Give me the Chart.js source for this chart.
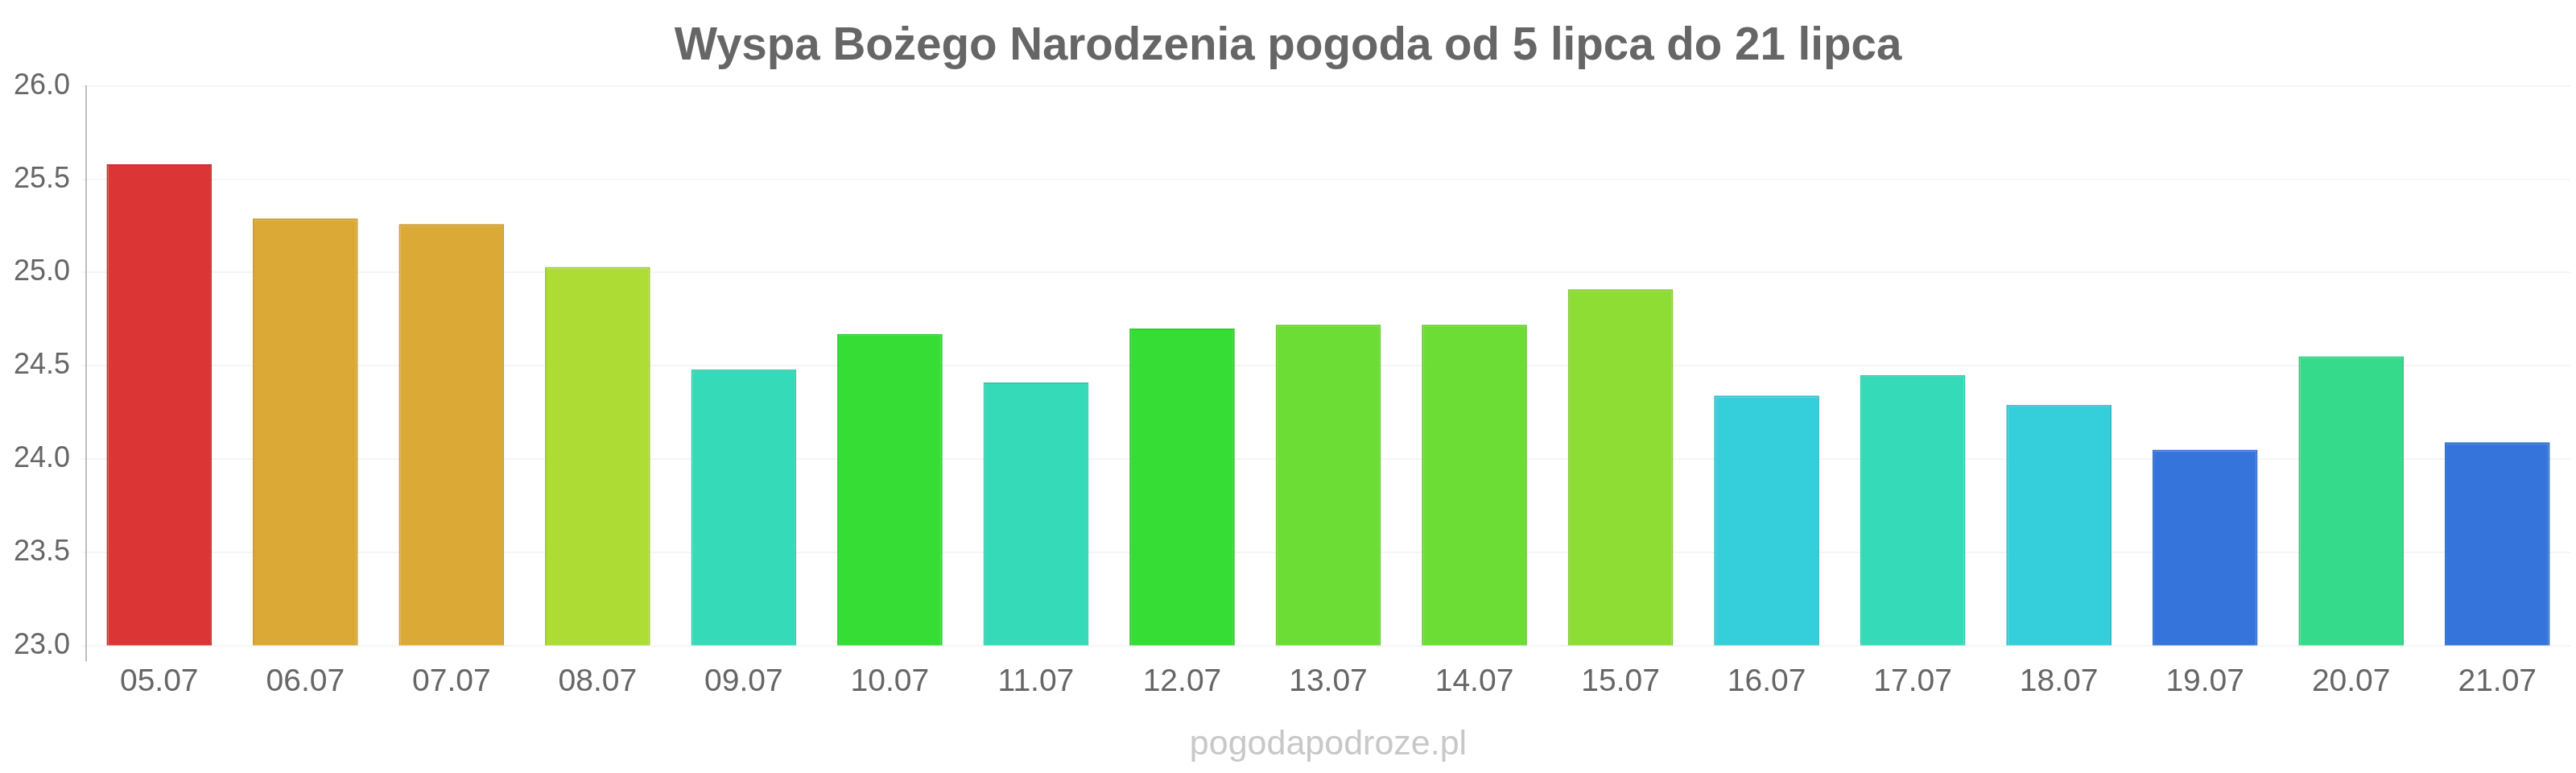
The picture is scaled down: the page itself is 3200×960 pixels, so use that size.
<!DOCTYPE html>
<html>
<head>
<meta charset="utf-8">
<script src="https://cdn.jsdelivr.net/npm/chart.js@4.4.1/dist/chart.umd.min.js"></script>
<style>
  html, body { margin: 0; padding: 0; background: #ffffff; }
  #wrap { width: 3200px; height: 960px; position: relative; }
</style>
</head>
<body>
<div id="wrap"><canvas id="chart"></canvas></div>
<script>
const titleText = 'Wyspa Bożego Narodzenia pogoda od 5 lipca do 21 lipca';
const watermarkText = 'pogodapodroze.pl';
const categories = ['05.07', '06.07', '07.07', '08.07', '09.07', '10.07', '11.07', '12.07', '13.07', '14.07', '15.07', '16.07', '17.07', '18.07', '19.07', '20.07', '21.07'];
const temperatures = [25.58, 25.29, 25.26, 25.03, 24.48, 24.67, 24.41, 24.70, 24.72, 24.72, 24.91, 24.34, 24.45, 24.29, 24.05, 24.55, 24.09];
const barColors = ['#db3535', '#dba935', '#dba935', '#addd35', '#35dbb8', '#35dd35', '#35dbb8', '#35dd35', '#6cdd35', '#6cdd35', '#8ddd35', '#35cfdb', '#35dbb8', '#35cfdb', '#3575db', '#35db8a', '#3575db'];
const yTickValues = [23.0, 23.5, 24.0, 24.5, 25.0, 25.5, 26.0];

function darker(hex, f) {
  const n = parseInt(hex.slice(1), 16);
  const r = Math.round(((n >> 16) & 255) * f);
  const g = Math.round(((n >> 8) & 255) * f);
  const b = Math.round((n & 255) * f);
  return 'rgb(' + r + ',' + g + ',' + b + ')';
}

const FONT = "'Liberation Sans', Arial, Helvetica, sans-serif";

new Chart(document.getElementById('chart'), {
  type: 'bar',
  data: {
    labels: categories,
    datasets: [{
      data: temperatures,
      backgroundColor: barColors,
      borderColor: barColors.map(c => darker(c, 0.92)),
      borderWidth: 2,
      barPercentage: 0.9,
      categoryPercentage: 0.8
    }]
  },
  options: {
    responsive: true,
    maintainAspectRatio: false,
    devicePixelRatio: 1,
    animation: false,
    layout: { padding: { left: 7, right: 7, top: 0, bottom: 0 } },
    plugins: {
      legend: { display: false },
      tooltip: { enabled: false },
      title: {
        display: true,
        text: titleText,
        color: '#666666',
        font: { family: FONT, size: 56.5, weight: 'bold', lineHeight: 1.2 },
        padding: { top: 25, bottom: 14 }
      },
      subtitle: {
        display: true,
        position: 'bottom',
        fullSize: false,
        text: watermarkText,
        color: '#c8c8c8',
        font: { family: FONT, size: 43, weight: 'normal', lineHeight: 1.2 },
        padding: { top: 27, bottom: 9 }
      }
    },
    scales: {
      x: {
        offset: true,
        border: { display: false },
        grid: {
          display: true,
          offset: true,
          drawOnChartArea: true,
          color: ctx => ctx.index === 0 ? '#bdbdbd' : 'rgba(0,0,0,0)',
          lineWidth: 2,
          tickLength: 20
        },
        ticks: {
          color: '#666666',
          padding: 2,
          font: { family: FONT, size: 39 },
          maxRotation: 0,
          autoSkip: false
        }
      },
      y: {
        min: 23,
        max: 26,
        afterFit: axis => { axis.width = 100; },
        border: { display: true, color: '#bdbdbd', width: 2 },
        grid: {
          color: 'rgba(0,0,0,0.04)',
          lineWidth: 2,
          tickLength: 5
        },
        afterBuildTicks: axis => { axis.ticks = yTickValues.map(v => ({ value: v })); },
        ticks: {
          color: '#666666',
          padding: 15,
          font: { family: FONT, size: 36 },
          callback: v => Number(v).toFixed(1)
        }
      }
    }
  }
});
</script>
</body>
</html>
